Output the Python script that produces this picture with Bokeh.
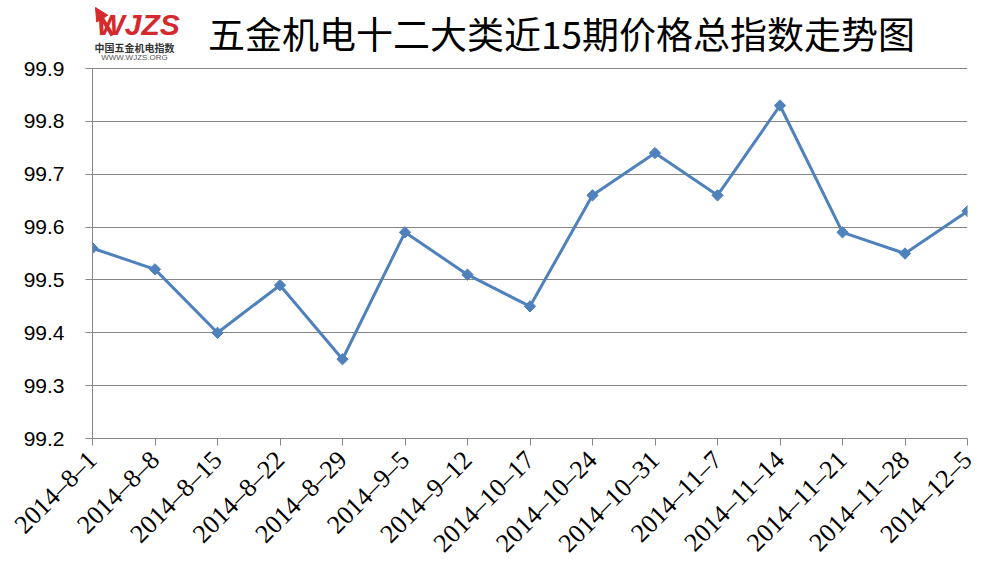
import math
from bokeh.plotting import figure
from bokeh.models import ColumnDataSource, FixedTicker, Range1d, Label, Arrow, NormalHead
from bokeh.embed import file_html
from bokeh.resources import INLINE

dates = ["2014–8–1", "2014–8–8", "2014–8–15", "2014–8–22", "2014–8–29", "2014–9–5",
         "2014–9–12", "2014–10–17", "2014–10–24", "2014–10–31", "2014–11–7",
         "2014–11–14", "2014–11–21", "2014–11–28", "2014–12–5"]
values = [99.56, 99.52, 99.40, 99.49, 99.35, 99.59, 99.51, 99.45, 99.66, 99.74,
          99.66, 99.83, 99.59, 99.55, 99.63]
y_ticks = [99.2, 99.3, 99.4, 99.5, 99.6, 99.7, 99.8, 99.9]
title_text = "五金机电十二大类近15期价格总指数走势图"
logo_text = "WJZS"
logo_sub = "中国五金机电指数"
logo_url = "WWW.WJZS.ORG"

xs = list(range(len(dates)))
src = ColumnDataSource(dict(x=xs, y=values))

# layout (canvas pixels): plot area 99.2..99.9 spans y=438..68, frame extends to top
W, H = 988, 574
BL, BB, BR = 92, 136, 21
FRAME_BOTTOM = H - BB          # 438
AXIS_TOP = 68
y_lo, y_hi = y_ticks[0], y_ticks[-1]
y_end = y_hi + (y_hi - y_lo) * AXIS_TOP / (FRAME_BOTTOM - AXIS_TOP)


def sx(X):
    return X - BL


def sy(Y):
    return FRAME_BOTTOM - Y


p = figure(width=W, height=H, output_backend="svg", toolbar_location=None,
           x_range=Range1d(0, len(dates) - 1), y_range=Range1d(y_lo, y_end),
           min_border_left=BL, min_border_right=BR, min_border_top=0, min_border_bottom=BB)
p.outline_line_color = None
p.background_fill_color = "white"
p.border_fill_color = "white"

grid_col = "#868686"
p.xgrid.grid_line_color = None
p.ygrid.grid_line_color = grid_col
p.ygrid.grid_line_width = 1
p.yaxis.ticker = FixedTicker(ticks=y_ticks)
p.yaxis.bounds = (y_lo, y_hi)
p.yaxis.major_label_overrides = {t: f"{t:.1f}" for t in y_ticks}
p.xaxis.ticker = FixedTicker(ticks=xs)
p.xaxis.major_label_overrides = {i: d for i, d in enumerate(dates)}
p.xaxis.major_label_orientation = math.pi / 4
for ax in (p.xaxis, p.yaxis):
    ax.axis_line_color = grid_col
    ax.major_tick_line_color = grid_col
    ax.major_tick_out = 7
    ax.major_tick_in = 0
    ax.minor_tick_line_color = None
    ax.major_label_text_color = "black"
p.yaxis.major_label_text_font = "Liberation Sans"
p.yaxis.major_label_text_font_size = "21px"
p.yaxis.major_label_standoff = 21
p.xaxis.major_label_text_font = "Liberation Serif"
p.xaxis.major_label_text_font_size = "26px"
p.xaxis.major_label_standoff = 10

p.line("x", "y", source=src, line_color="#4F81BD", line_width=3)
p.scatter("x", "y", source=src, marker="square", angle=math.pi / 4, size=8,
          fill_color="#4F81BD", line_color="#4F81BD")

# title
p.add_layout(Label(x=sx(561), y=sy(32), x_units="screen", y_units="screen", text=title_text,
                   text_font="Noto Sans CJK SC", text_font_size="37px", text_align="center",
                   text_baseline="middle", text_color="black"))
# logo
red = "#D42A2E"
p.add_layout(Arrow(x_start=sx(112), y_start=sy(35), x_end=sx(95), y_end=sy(7),
                   start_units="screen", end_units="screen",
                   line_color=red, line_width=4,
                   end=NormalHead(size=13, fill_color=red, line_color=red, line_width=1)))
p.add_layout(Label(x=sx(96), y=sy(24), x_units="screen", y_units="screen", text=logo_text,
                   text_font="Liberation Sans", text_font_style="bold italic",
                   text_font_size="30px", text_color=red, text_baseline="middle"))
p.add_layout(Label(x=sx(134), y=sy(47), x_units="screen", y_units="screen", text=logo_sub,
                   text_font="Noto Sans CJK SC", text_font_style="bold",
                   text_font_size="10px", text_color="#333333", text_align="center",
                   text_baseline="middle"))
p.add_layout(Label(x=sx(134), y=sy(57), x_units="screen", y_units="screen", text=logo_url,
                   text_font="Liberation Sans", text_font_size="8px",
                   text_color="#555555", text_align="center", text_baseline="middle"))

open("out.html", "w").write(file_html(p, INLINE))
